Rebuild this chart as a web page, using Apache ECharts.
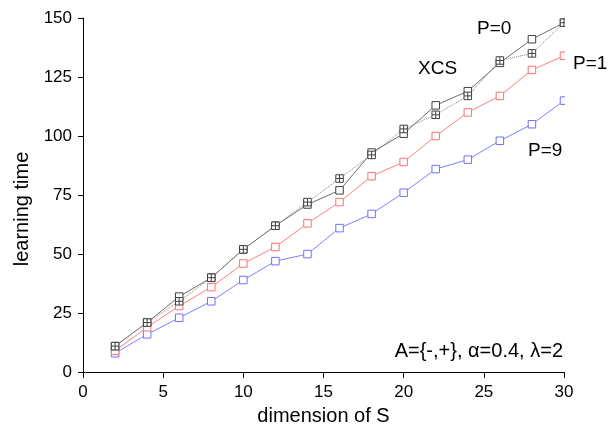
<!DOCTYPE html>
<html>
<head>
<meta charset="utf-8">
<script src="https://cdn.jsdelivr.net/npm/echarts@6/dist/echarts.min.js"></script>
<style>
  html, body { margin: 0; padding: 0; background: #fff; }
  #chart { width: 608px; height: 431px; }
</style>
</head>
<body>
<div id="chart"></div>
<script>
// dimension of S
const dims = [2, 4, 6, 8, 10, 12, 14, 16, 18, 20, 22, 24, 26, 28, 30];
// learning time per setting
const p0 = [11, 21, 32, 40, 52, 62, 71, 77, 93, 101, 113, 119, 131, 141, 148];
const xcs = [11, 21, 30, 40, 52, 62, 72, 82, 92, 103, 109, 117, 132, 135, 148];
const p1 = [9, 19, 28, 36, 46, 53, 63, 72, 83, 89, 100, 110, 117, 128, 134];
const p9 = [8, 16, 23, 30, 39, 47, 50, 61, 67, 76, 86, 90, 98, 105, 115];

const xTicks = [0, 5, 10, 15, 20, 25, 30];
const yTicks = [0, 25, 50, 75, 100, 125, 150];

const FONT = 'Liberation Sans, Arial, sans-serif';
const pairs = ys => dims.map((d, i) => [d, ys[i]]);
const crossBox = 'path://M0,0L10,0L10,10L0,10Z M5,0L5,10 M0,5L10,5';

function lineSeries(name, ys, color, markColor, symbol, dashed) {
  return {
    name: name,
    type: 'line',
    data: pairs(ys),
    symbol: symbol,
    symbolSize: 7.5,
    clip: false,
    lineStyle: { color: color, width: 1, type: dashed ? 'dotted' : 'solid' },
    itemStyle: { color: '#fff', borderColor: markColor, borderWidth: 1 },
    emphasis: { disabled: true },
    animation: false
  };
}

const chart = echarts.init(document.getElementById('chart'), null, { renderer: 'canvas' });

const option = {
  backgroundColor: '#fff',
  animation: false,
  grid: { left: 83, right: 44, top: 18, bottom: 58 },
  xAxis: {
    type: 'value', min: 0, max: 30, interval: 5,
    name: 'dimension of S', nameLocation: 'middle', nameGap: 28,
    nameTextStyle: { fontFamily: FONT, fontSize: 20, color: '#000' },
    axisLine: { show: true, lineStyle: { color: '#000', width: 1 } },
    axisTick: { show: true, inside: false, length: 6, lineStyle: { color: '#000' } },
    axisLabel: {
      margin: 12, fontFamily: FONT, fontSize: 17, color: '#000',
      formatter: v => (xTicks.indexOf(v) >= 0 ? String(v) : '')
    },
    splitLine: { show: false }
  },
  yAxis: {
    type: 'value', min: 0, max: 150, interval: 25,
    axisLine: { show: true, lineStyle: { color: '#000', width: 1 } },
    axisTick: { show: true, inside: false, length: 5, lineStyle: { color: '#000' } },
    axisLabel: {
      margin: 11, fontFamily: FONT, fontSize: 17, color: '#000',
      formatter: v => (yTicks.indexOf(v) >= 0 ? String(v) : '')
    },
    splitLine: { show: false }
  },
  series: [
    lineSeries('P=9', p9, '#8080ff', '#7070ff', 'rect', false),
    lineSeries('P=1', p1, '#ff8080', '#ff7070', 'rect', false),
    lineSeries('P=0', p0, '#707070', '#404040', 'rect', false),
    lineSeries('XCS', xcs, '#808080', '#404040', crossBox, true)
  ]
};
chart.setOption(option);

// Marks are cut at the right edge of the plot; labels sit on top.
const xEnd = chart.convertToPixel({ xAxisIndex: 0 }, 30);
const yZero = chart.convertToPixel({ yAxisIndex: 0 }, 0);
const textStyle = (txt, size) => ({ text: txt, fontFamily: FONT, fontSize: size, fill: '#000' });
chart.setOption({
  graphic: [
    { type: 'rect', z: 50, silent: true,
      shape: { x: xEnd + 1, y: 0, width: 608 - xEnd, height: yZero - 1 },
      style: { fill: '#fff' } },
    { type: 'text', z: 60, x: 22, y: 209, rotation: Math.PI / 2,
      style: Object.assign(textStyle('learning time', 20), { align: 'center', verticalAlign: 'middle' }) },
    { type: 'text', z: 60, left: 477, top: 19, style: textStyle('P=0', 19) },
    { type: 'text', z: 60, left: 418, top: 59, style: textStyle('XCS', 19) },
    { type: 'text', z: 60, left: 573, top: 54, style: textStyle('P=1', 19) },
    { type: 'text', z: 60, left: 528, top: 141, style: textStyle('P=9', 19) },
    { type: 'text', z: 60, right: 45, top: 341, style: textStyle('A={-,+}, \u03b1=0.4, \u03bb=2', 20) }
  ]
});
</script>
</body>
</html>
